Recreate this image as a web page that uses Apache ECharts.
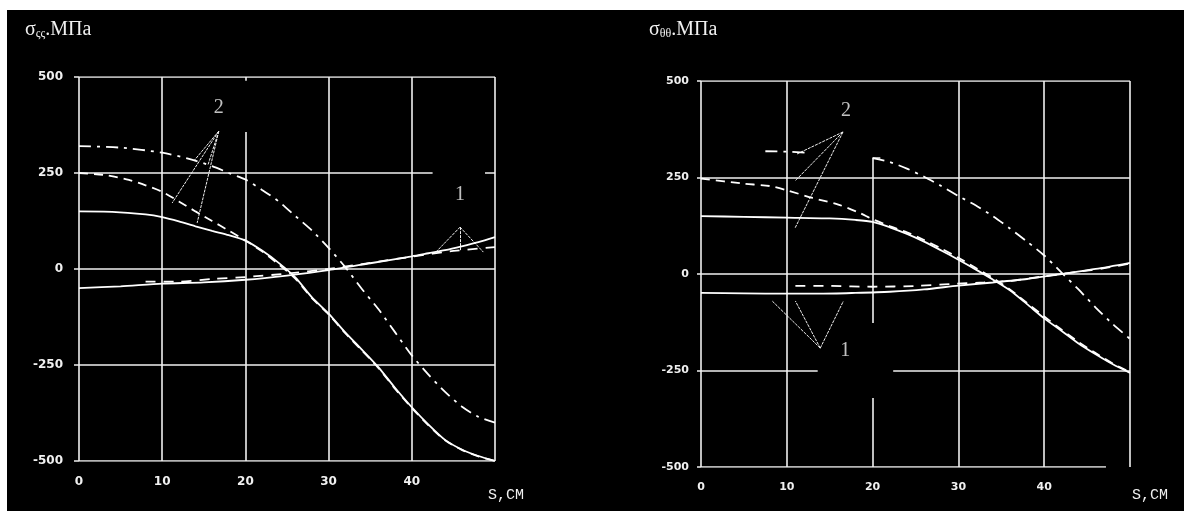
<!DOCTYPE html>
<html>
<head>
<meta charset="utf-8">
<script src="https://cdn.jsdelivr.net/npm/echarts@6/dist/echarts.min.js"></script>
<style>
html,body{margin:0;padding:0;background:#fff;}
#c{width:1184px;height:511px;}
</style>
</head>
<body>
<div id="c"></div>
<script>
// ---------- tick labels ----------
const xTicks = [0, 10, 20, 30, 40];
const yTicks = [-500, -250, 0, 250, 500];

// ---------- LEFT panel: sigma_ss (s, MPa) ----------
const leftDashDot2 = [[0,320],[5,316],[10,303],[13,288],[16,268],[18,250],[20,233],[22,206],[24,176],[26,138],[28,100],[30,55],[32,5],[34,-52],[36,-105],[38,-165],[40,-225],[42,-275],[44,-320],[46,-358],[48,-385],[50,-400]];
const leftDashed2 = [[0,250],[3,245],[6,232],[8,218],[10,201],[12,176],[14,150],[16,125],[18,100],[20,74],[22,46],[24,12],[26,-25],[28,-76],[30,-118],[32,-167],[34,-212],[36,-258],[38,-312],[40,-362],[42,-407],[44,-446],[46,-471],[48,-488],[50,-500]];
const leftSolid2 = [[0,150],[4,149],[8,142],[10,135],[12,124],[14,111],[16,99],[18,88],[20,74],[22,48],[24,16],[26,-22],[28,-74],[30,-116],[32,-165],[34,-210],[36,-256],[38,-310],[40,-360],[42,-405],[44,-445],[46,-470],[48,-487],[50,-500]];
const leftSolid1 = [[0,-50],[5,-45],[10,-38],[15,-35],[20,-28],[25,-17],[30,-3],[35,15],[40,33],[42,41],[44,49],[46,59],[48,70],[50,83]];
const leftDashed1 = [[8,-33],[12,-33],[16,-26],[20,-21],[25,-12],[30,0],[35,16],[40,32],[45,47],[50,57]];

// ---------- RIGHT panel: sigma_theta_theta ----------
const rightDashDot2 = [[7.5,318],[10,317],[12.5,314],[15,null],[20,300],[22,290],[24,273],[26,252],[28,228],[30,202],[32,178],[34,150],[36,118],[38,84],[40,48],[42,4],[44,-40],[46,-87],[48,-130],[50,-168]];
const rightDashed2 = [[0,247],[5,234],[8,228],[10,217],[13,197],[16,180],[18.5,158],[20,142],[22,124],[24,108],[26,88],[28,66],[30,42],[32,16],[34,-10],[36,-40],[38,-75],[40,-110],[42,-144],[44,-176],[46,-205],[48,-232],[50,-254]];
const rightSolid2 = [[0,150],[5,148],[10,146],[15,144],[18,140],[20,135],[22,121],[24,104],[26,84],[28,61],[30,37],[32,12],[34,-14],[36,-42],[38,-78],[40,-115],[42,-147],[44,-180],[46,-208],[48,-234],[50,-256]];
const rightSolid1 = [[0,-49],[5,-50],[10,-51],[14,-51],[18,-49],[22,-46],[26,-40],[30,-30],[34,-22],[38,-13],[42,0],[46,13],[50,29]];
const rightDashed1 = [[11,-31],[15,-31],[20,-33],[25,-31],[29,-26],[33,-22],[36,-18],[40,-6],[44,6],[47,15],[50,27]];

// ---------- annotations (data coordinates) ----------
const leftLabel2 = [16.8, 419];
const leftPointer2 = [[[16.8,359],[13.9,284]],[[16.8,359],[11.2,172]],[[16.8,359],[14.2,120]],[[16.8,359],[15.5,271]]];
const leftLabel1 = [45.8, 193];
const leftPointer1 = [[[45.8,109],[42.8,42]],[[45.8,109],[45.8,49]],[[45.8,109],[48.6,44]]];
const rightLabel2 = [16.9, 422];
const rightPointer2 = [[[16.55,368],[11.2,311]],[[16.55,368],[10.96,241]],[[16.55,368],[10.96,119]]];
const rightLabel1 = [16.8, -199];
const rightPointer1 = [[[13.9,-192],[8.3,-70]],[[13.9,-192],[11,-70]],[[13.9,-192],[16.6,-70]]];

// ---------- grid line segments (data coordinates) ----------
const leftGridSegs = [
  [[0,-500],[0,500]], [[50,-500],[50,500]], [[0,500],[50,500]], [[0,-500],[50,-500]],
  [[10,-500],[10,500]], [[20,-500],[20,357]], [[20,490],[20,500]], [[30,-500],[30,500]], [[40,-500],[40,500]],
  [[0,250],[42.5,250]], [[48.8,250],[50,250]], [[0,0],[50,0]], [[0,-250],[50,-250]]
];
const rightGridSegs = [
  [[0,-500],[0,500]], [[50,-500],[50,500]], [[0,500],[50,500]], [[0,-500],[47.2,-500]],
  [[10,-500],[10,500]], [[20,-127],[20,300]], [[20,-500],[20,-321]], [[20,300],[20.9,300]], [[30,-500],[30,500]], [[40,-500],[40,500]],
  [[0,250],[50,250]], [[0,0],[50,0]], [[0,-250],[13.6,-250]], [[22.4,-250],[50,-250]]
];

const W = '#f0f0f0';
const chart = echarts.init(document.getElementById('c'), null, {renderer:'canvas'});

function xAx(gi){
  return {gridIndex:gi, type:'value', min:0, max:50, interval:10,
    axisLine:{show:false}, axisTick:{show:false}, splitLine:{show:false},
    axisLabel:{margin:15, color:W, fontFamily:'DejaVu Sans', fontWeight:'bold', fontSize: gi===0?12:11,
      formatter: v => xTicks.indexOf(v) >= 0 ? String(v) : ''}};
}
function yAx(gi){
  return {gridIndex:gi, type:'value', min:-500, max:500, interval:250,
    axisLine:{show:false}, axisTick:{show:true, length: gi===0?5:4, lineStyle:{color:W, width:1.5}},
    splitLine:{show:false},
    axisLabel:{margin: gi===0?16:12, color:W, fontFamily:'DejaVu Sans', fontWeight:'bold', fontSize: gi===0?12:11,
      formatter: v => yTicks.indexOf(v) >= 0 ? String(v) : ''}};
}
function curve(gi, data, dash){
  return {type:'line', xAxisIndex:gi, yAxisIndex:gi, data:data, symbol:'none', smooth:0.25,
    connectNulls:false, silent:true, z:5,
    lineStyle:{color:'#ffffff', width:1.8, type:dash}};
}
function segs(gi, list, style){
  return {type:'lines', coordinateSystem:'cartesian2d', xAxisIndex:gi, yAxisIndex:gi, silent:true, z:2,
    data:list.map(c => ({coords:c})), lineStyle:Object.assign({color:W, width:1.6, opacity:1, type:'solid'}, style||{})};
}
function label(gi, pos, txt){
  return {type:'scatter', xAxisIndex:gi, yAxisIndex:gi, data:[pos], symbolSize:1, silent:true, z:6,
    itemStyle:{color:'rgba(0,0,0,0)'},
    label:{show:true, position:'inside', formatter:txt, color:W, fontFamily:'Liberation Serif', fontSize:20}};
}

const dashDot = [12,6,3,6];
const dashed = [9,6];
const dashed1 = [10,8];

const titleRich = {
  a:{font:'20px "Liberation Serif"', fill:W, fontSize:20, fontFamily:'Liberation Serif'},
  b:{font:'12px "Liberation Serif"', fill:W, fontSize:12, fontFamily:'Liberation Serif', padding:[8,0,0,0]}
};

chart.setOption({
  backgroundColor:'#ffffff',
  animation:false,
  graphic:[
    {type:'rect', left:7, top:10, z:-10, shape:{width:1177, height:501}, style:{fill:'#000000'}},
    {type:'text', left:25, top:20, z:10, style:{text:'{a|σ}{b|ςς}{a|.МПа}', rich:titleRich}},
    {type:'text', left:649, top:20, z:10, style:{text:'{a|σ}{b|θθ}{a|.МПа}', rich:titleRich}},
    {type:'text', left:488, top:488, z:10, style:{text:'S,CM', font:'15px "Liberation Mono"', fill:W}},
    {type:'text', left:1132, top:488, z:10, style:{text:'S,CM', font:'15px "Liberation Mono"', fill:W}}
  ],
  grid:[
    {left:79, top:77, width:416, height:384},
    {left:701, top:81, width:429, height:386}
  ],
  xAxis:[xAx(0), xAx(1)],
  yAxis:[yAx(0), yAx(1)],
  series:[
    segs(0, leftGridSegs),
    segs(1, rightGridSegs),
    segs(0, leftPointer2, {width:1, type:[3,1]}),
    segs(0, leftPointer1, {width:1, type:[3,1]}),
    segs(1, rightPointer2, {width:1, type:[3,1]}),
    segs(1, rightPointer1, {width:1, type:[3,1]}),
    curve(0, leftDashDot2, dashDot),
    curve(0, leftDashed2, dashed),
    curve(0, leftSolid2, 'solid'),
    curve(0, leftSolid1, 'solid'),
    curve(0, leftDashed1, dashed1),
    curve(1, rightDashDot2, dashDot),
    curve(1, rightDashed2, dashed),
    curve(1, rightSolid2, 'solid'),
    curve(1, rightSolid1, 'solid'),
    curve(1, rightDashed1, dashed1),
    label(0, leftLabel2, '2'),
    label(0, leftLabel1, '1'),
    label(1, rightLabel2, '2'),
    label(1, rightLabel1, '1')
  ]
});
</script>
</body>
</html>
